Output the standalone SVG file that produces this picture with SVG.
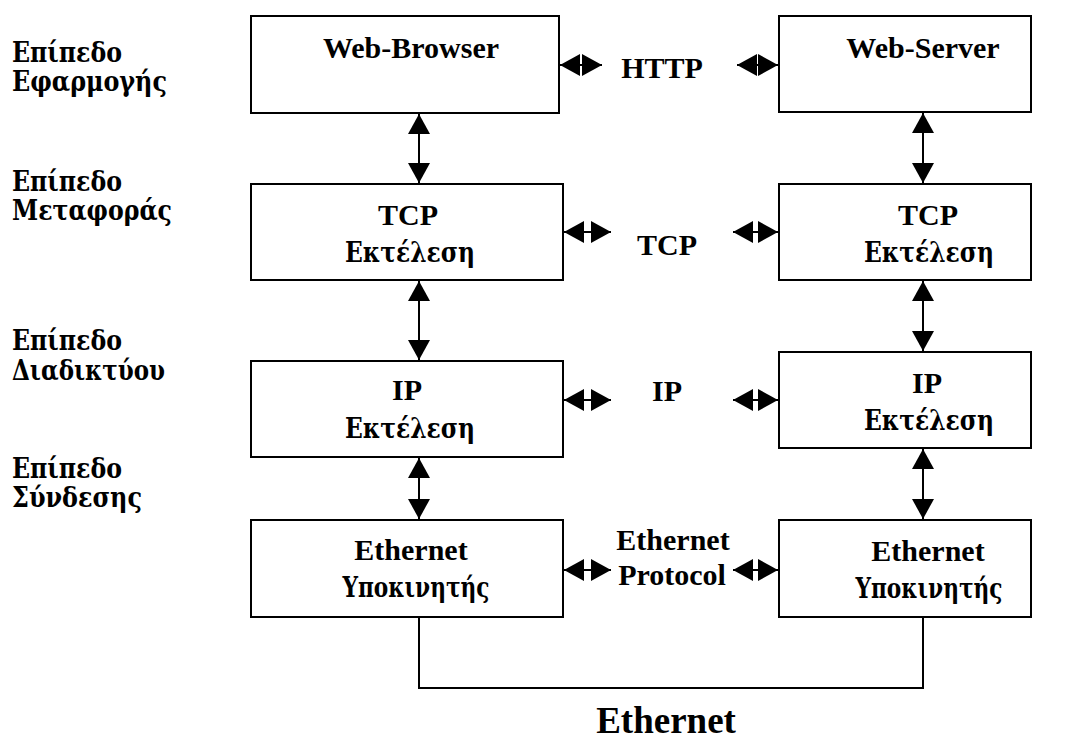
<svg xmlns="http://www.w3.org/2000/svg" width="1081" height="740" viewBox="0 0 1081 740">
  <style>
    .box { fill: #fff; stroke: #000; stroke-width: 2; }
    .lbl, .side, .big { font-family: "Liberation Serif", "Times New Roman", serif; font-weight: bold; fill: #000; }
    .gr, .side { font-family: "DejaVu Serif", "Liberation Serif", serif; }
    .lbl { font-size: 30px; text-anchor: middle; }
    .gr { font-size: 27px; }
    .side { font-size: 27px; }
    .big { font-size: 37px; text-anchor: middle; }
    .link { fill: none; stroke: #000; stroke-width: 2; }
    .dbl { marker-start: url(#head); marker-end: url(#head); }
  </style>
  <defs>
    <marker id="head" markerUnits="userSpaceOnUse" markerWidth="20" markerHeight="22" refX="20" refY="11" orient="auto-start-reverse">
      <path d="M0,0 L20,11 L0,22 Z" fill="#000"/>
    </marker>
  </defs>
  <rect width="1081" height="740" fill="#fff"/>

  <!-- layer names -->
  <g id="layer-labels">
    <text class="side" x="12" y="62" textLength="110" lengthAdjust="spacingAndGlyphs">Επίπεδο</text>
    <text class="side" x="12" y="91" textLength="155" lengthAdjust="spacingAndGlyphs">Εφαρμογής</text>
    <text class="side" x="12" y="191" textLength="110" lengthAdjust="spacingAndGlyphs">Επίπεδο</text>
    <text class="side" x="12" y="220" textLength="160" lengthAdjust="spacingAndGlyphs">Μεταφοράς</text>
    <text class="side" x="12" y="350" textLength="110" lengthAdjust="spacingAndGlyphs">Επίπεδο</text>
    <text class="side" x="12" y="380" textLength="153" lengthAdjust="spacingAndGlyphs">Διαδικτύου</text>
    <text class="side" x="12" y="478" textLength="110" lengthAdjust="spacingAndGlyphs">Επίπεδο</text>
    <text class="side" x="12" y="507" textLength="130" lengthAdjust="spacingAndGlyphs">Σύνδεσης</text>
  </g>

  <!-- client stack -->
  <g id="web-browser">
    <rect class="box" x="251" y="16" width="308" height="97"/>
    <text class="lbl" x="411" y="58">Web-Browser</text>
  </g>
  <g id="tcp-client">
    <rect class="box" x="251" y="184" width="312" height="96"/>
    <text class="lbl" x="408" y="225">TCP</text>
    <text class="lbl gr" x="410" y="262" textLength="130" lengthAdjust="spacingAndGlyphs">Εκτέλεση</text>
  </g>
  <g id="ip-client">
    <rect class="box" x="251" y="361" width="312" height="96"/>
    <text class="lbl" x="407" y="400">IP</text>
    <text class="lbl gr" x="410" y="438" textLength="130" lengthAdjust="spacingAndGlyphs">Εκτέλεση</text>
  </g>
  <g id="eth-client">
    <rect class="box" x="251" y="520" width="312" height="97"/>
    <text class="lbl" x="411" y="560">Ethernet</text>
    <text class="lbl gr" x="416" y="597" textLength="147" lengthAdjust="spacingAndGlyphs">Υποκινητής</text>
  </g>

  <!-- server stack -->
  <g id="web-server">
    <rect class="box" x="779" y="16" width="252" height="96"/>
    <text class="lbl" x="923" y="58">Web-Server</text>
  </g>
  <g id="tcp-server">
    <rect class="box" x="779" y="184" width="252" height="96"/>
    <text class="lbl" x="928" y="225">TCP</text>
    <text class="lbl gr" x="929" y="262" textLength="130" lengthAdjust="spacingAndGlyphs">Εκτέλεση</text>
  </g>
  <g id="ip-server">
    <rect class="box" x="779" y="352" width="252" height="96"/>
    <text class="lbl" x="927" y="393">IP</text>
    <text class="lbl gr" x="929" y="430" textLength="130" lengthAdjust="spacingAndGlyphs">Εκτέλεση</text>
  </g>
  <g id="eth-server">
    <rect class="box" x="779" y="520" width="252" height="97"/>
    <text class="lbl" x="928" y="561">Ethernet</text>
    <text class="lbl gr" x="929" y="598" textLength="147" lengthAdjust="spacingAndGlyphs">Υποκινητής</text>
  </g>

  <!-- peer protocol names -->
  <g id="protocols">
    <text class="lbl" x="662" y="78">HTTP</text>
    <text class="lbl" x="667" y="255">TCP</text>
    <text class="lbl" x="667" y="401">IP</text>
    <text class="lbl" x="673" y="550">Ethernet</text>
    <text class="lbl" x="672" y="585">Protocol</text>
    <text class="big" x="666" y="733">Ethernet</text>
  </g>

  <!-- connectors -->
  <g id="connectors">
    <!-- vertical, client side -->
    <line class="link dbl" x1="419" y1="114" x2="419" y2="183"/>
    <line class="link dbl" x1="419" y1="281" x2="419" y2="360"/>
    <line class="link dbl" x1="419" y1="458" x2="419" y2="519"/>
    <!-- vertical, server side -->
    <line class="link dbl" x1="923" y1="113" x2="923" y2="183"/>
    <line class="link dbl" x1="923" y1="281" x2="923" y2="351"/>
    <line class="link dbl" x1="923" y1="449" x2="923" y2="519"/>
    <!-- horizontal, peer links -->
    <line class="link dbl" x1="560" y1="65" x2="602" y2="65"/>
    <line class="link dbl" x1="737" y1="65" x2="778" y2="65"/>
    <line class="link dbl" x1="564" y1="232" x2="611" y2="232"/>
    <line class="link dbl" x1="733" y1="232" x2="778" y2="232"/>
    <line class="link dbl" x1="564" y1="400" x2="611" y2="400"/>
    <line class="link dbl" x1="733" y1="400" x2="778" y2="400"/>
    <line class="link dbl" x1="564" y1="570" x2="611" y2="570"/>
    <line class="link dbl" x1="733" y1="570" x2="778" y2="570"/>
    <!-- shared Ethernet medium -->
    <polyline class="link" points="419,617 419,688 923,688 923,617"/>
  </g>
</svg>
